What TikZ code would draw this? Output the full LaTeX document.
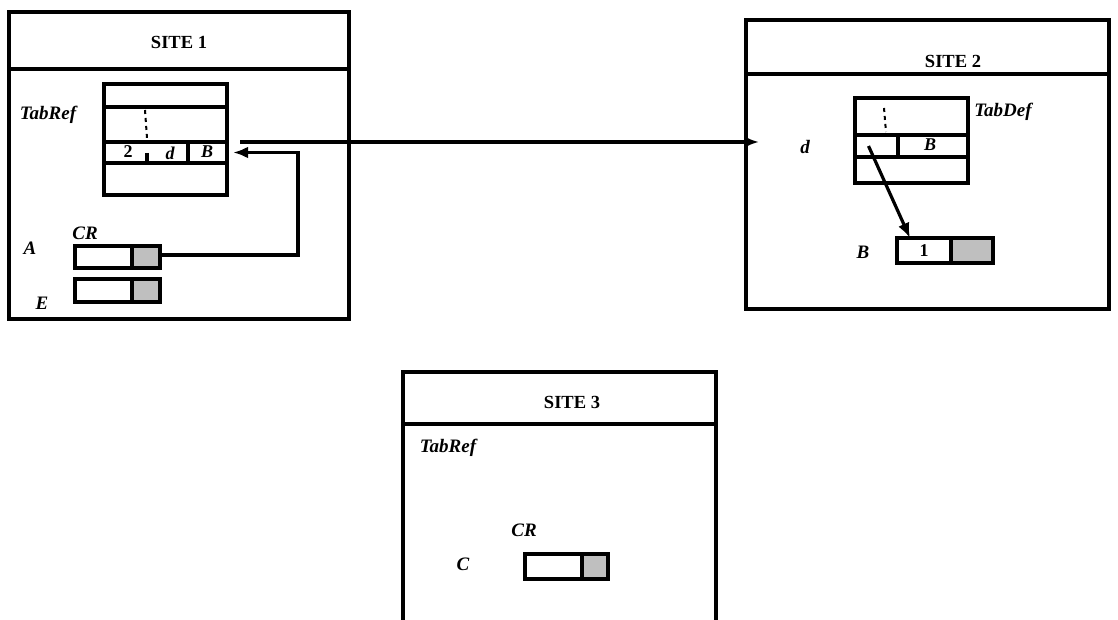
\documentclass[tikz,border=0pt]{standalone}
\usepackage{fontspec}
\setmainfont{Liberation Serif}
\usetikzlibrary{arrows.meta}
\begin{document}
\begin{tikzpicture}[x=1pt,y=-1pt,
  site/.style={draw,line width=3.2pt,inner sep=0pt,outer sep=0pt},
  cell/.style={draw,line width=3.2pt,inner sep=0pt,outer sep=0pt},
  shade/.style={cell,fill=gray!50},
  lab/.style={font=\fontsize{19}{22}\selectfont\bfseries\itshape,inner sep=0pt},
  ttl/.style={font=\fontsize{18.5}{21}\selectfont\bfseries,inner sep=0pt},
  ctx/.style={font=\fontsize{18}{21}\selectfont\bfseries,inner sep=0pt},
  ctxi/.style={font=\fontsize{18}{21}\selectfont\bfseries\itshape,inner sep=0pt},
  dots/.style={line width=2pt,dash pattern=on 4pt off 4pt},
  conn/.style={line width=3.2pt,-{Latex[length=15pt,width=12pt]}}
]
\useasboundingbox (0,0) rectangle (1118,620);
\fill[white] (0,0) rectangle (1118,620);

% ---------------- SITE 1 ----------------
\node[site,minimum width=340pt,minimum height=307pt] (s1) at (179,165.5) {};
\draw[site] (9,69) -- (349,69);
\node[ttl] (s1t) at (179,42) {SITE 1};
\node[lab] (s1tab) at (48,115) {TabRef};
\node[cell,minimum width=123pt,minimum height=111pt] (t1) at (165.5,139.5) {};
\draw[cell] (104,107) -- (227,107);
\draw[cell] (104,142) -- (227,142);
\draw[cell] (104,163) -- (227,163);
\draw[cell] (188,142) -- (188,163);
\draw[cell] (147,153) -- (147,163);
\draw[dots] (145,110) -- (147,138);
\node[ctx] (s12) at (128,152) {2};
\node[ctxi] (s1d) at (170,153) {d};
\node[ctxi] (s1Bt) at (207,152) {B};
\node[minimum width=39pt,minimum height=21pt,inner sep=0pt] (s1B) at (207.5,152.5) {};

\node[lab] (s1cr) at (85,233) {CR};
\node[lab] (s1a) at (30,248) {A};
\node[lab] (s1e) at (42,303) {E};
\node[cell,minimum width=57pt,minimum height=22pt] (aW) at (103.5,257) {};
\node[shade,minimum width=28pt,minimum height=22pt] (aSh) at (146,257) {};
\node[cell,minimum width=57pt,minimum height=23pt] (eW) at (103.5,290.5) {};
\node[shade,minimum width=28pt,minimum height=23pt] (eSh) at (146,290.5) {};

\coordinate (k1) at (298,255);
\draw[line width=3.2pt] (aSh.east |- k1) -- (k1) -- (k1 |- s1B.east);
\draw[conn] ([xshift=1.6pt]k1 |- s1B.east) -- ([xshift=6pt]s1B.east);

% long arrow to site 2
\coordinate (la) at (240,142);

% ---------------- SITE 2 ----------------
\node[site,minimum width=363pt,minimum height=289pt] (s2) at (927.5,164.5) {};
\draw[site] (746,74) -- (1109,74);
\node[ttl] (s2t) at (953,61) {SITE 2};
\node[lab] (s2tab) at (1003,112) {TabDef};
\node[lab] (s2dl) at (805,147) {d};
\node[cell,minimum width=113pt,minimum height=85pt] (t2) at (911.5,140.5) {};
\draw[cell] (855,135) -- (968,135);
\draw[cell] (855,157) -- (968,157);
\draw[cell] (898,135) -- (898,157);
\draw[dots] (884,108) -- (886,132);
\node[ctxi] (s2Bt) at (930,145) {B};
\node[minimum width=43pt,minimum height=22pt,inner sep=0pt] (s2d) at (876.5,146) {};

\node[lab] (s2bl) at (863,252) {B};
\node[cell,minimum width=54pt,minimum height=25pt,font=\fontsize{18}{21}\selectfont\bfseries] (one) at (924,250.5) {1};
\node[shade,minimum width=42pt,minimum height=25pt] (oneSh) at (972,250.5) {};

\draw[conn] (la) -- ([xshift=13pt]la -| s2.west);
\draw[conn] ([xshift=-8pt]s2d.center) -- ([xshift=-14pt]one.north);

% ---------------- SITE 3 ----------------
\draw[site] (403,630) -- (403,372) -- (716,372) -- (716,630);
\draw[site] (403,424) -- (716,424);
\node[ttl] (s3t) at (572,402) {SITE 3};
\node[lab] (s3tab) at (448,448) {TabRef};
\node[lab] (s3cr) at (524,530) {CR};
\node[lab] (s3c) at (463,564) {C};
\node[cell,minimum width=57pt,minimum height=25pt] (cW) at (553.5,566.5) {};
\node[shade,minimum width=26pt,minimum height=25pt] (cSh) at (595,566.5) {};
\end{tikzpicture}
\end{document}
